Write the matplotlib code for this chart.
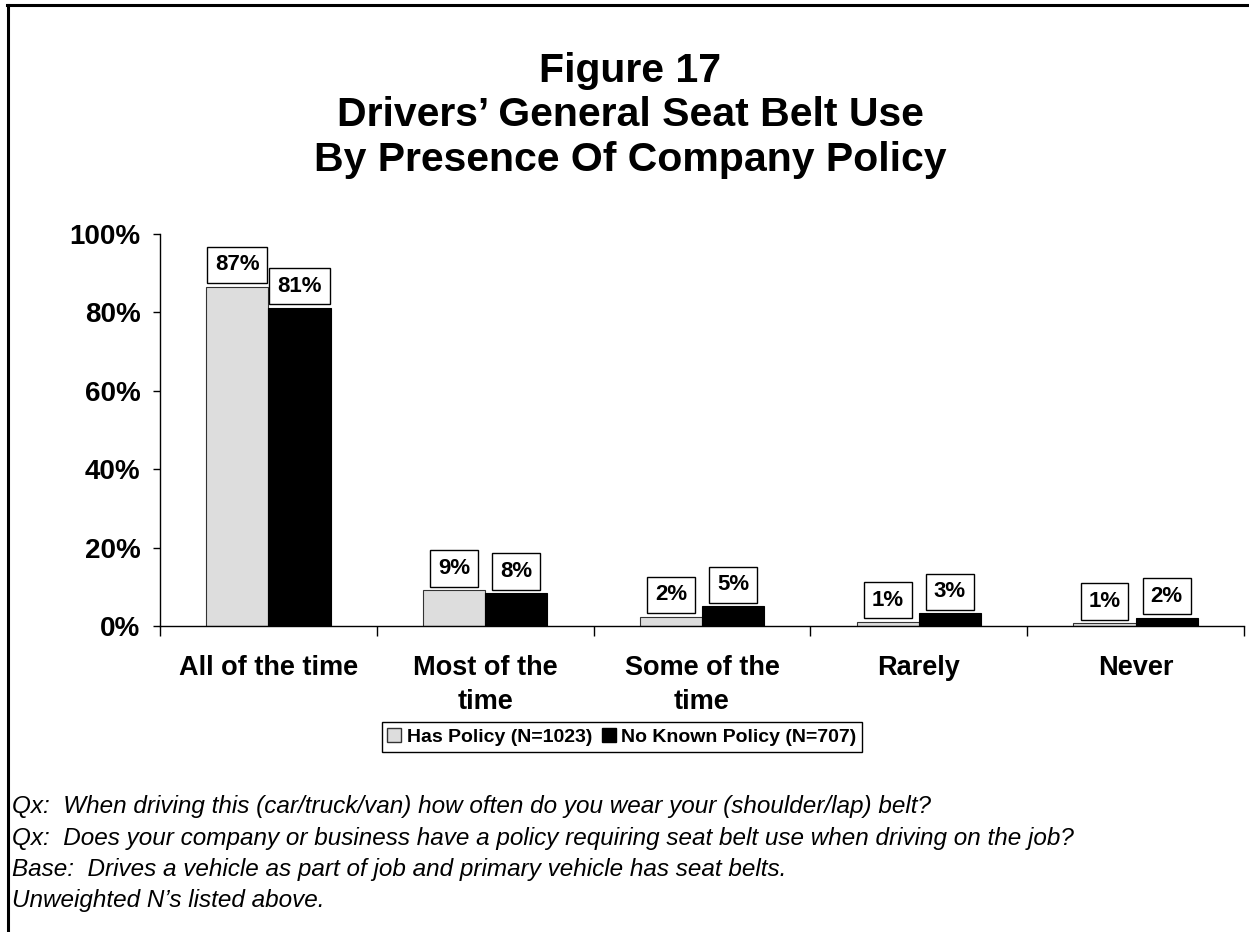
import numpy as np
import matplotlib
matplotlib.use("Agg")
import matplotlib.pyplot as plt
from matplotlib.patches import Patch
from matplotlib.lines import Line2D

plt.rcParams['font.family'] = 'Liberation Sans'

categories = ["All of the time", "Most of the\ntime", "Some of the\ntime", "Rarely", "Never"]
has_policy = [86.6, 9.2, 2.4, 1.1, 0.7]
no_policy = [81.2, 8.4, 5.0, 3.2, 2.1]
series_names = ["Has Policy (N=1023)", "No Known Policy (N=707)"]
title_lines = ["Figure 17", "Drivers\u2019 General Seat Belt Use", "By Presence Of Company Policy"]
notes = [
    "Qx:  When driving this (car/truck/van) how often do you wear your (shoulder/lap) belt?",
    "Qx:  Does your company or business have a policy requiring seat belt use when driving on the job?",
    "Base:  Drives a vehicle as part of job and primary vehicle has seat belts.",
    "Unweighted N\u2019s listed above.",
]

W, H = 1249, 932
fig = plt.figure(figsize=(W / 100, H / 100), dpi=100)
ax = fig.add_axes([160 / W, 1 - 626 / H, 1084 / W, 392 / H])

x = np.arange(len(categories))
bw = 0.287
b1 = ax.bar(x - bw / 2, has_policy, bw, color="#dddddd", edgecolor="#333333", linewidth=0.8)
b2 = ax.bar(x + bw / 2, no_policy, bw, color="black", edgecolor="black", linewidth=0.8)

for bars in (b1, b2):
    for r in bars:
        ax.annotate(f"{r.get_height():.0f}%", (r.get_x() + r.get_width() / 2, r.get_height()),
                    xytext=(0, 8), textcoords="offset points", ha="center", va="bottom",
                    fontsize=16, fontweight="bold",
                    bbox=dict(boxstyle="square,pad=0.35", fc="white", ec="black", lw=1))

ax.set_xlim(-0.5, len(categories) - 0.5)
ax.set_ylim(0, 100)
ax.set_yticks(np.arange(0, 101, 20))
ax.set_yticklabels([f"{v}%" for v in range(0, 101, 20)], fontsize=20, fontweight="bold")
ax.tick_params(axis="y", length=5, width=1, pad=9)

ax.set_xticks(np.arange(-0.5, len(categories)), labels=[])
ax.set_xticks(x, labels=categories, minor=True)
ax.tick_params(axis="x", which="major", length=7, width=1)
ax.tick_params(axis="x", which="minor", length=0, pad=21)
for lab in ax.get_xticklabels(minor=True):
    lab.set_fontsize(19.5)
    lab.set_fontweight("bold")
    lab.set_linespacing(1.38)

for s in ["top", "right"]:
    ax.spines[s].set_visible(False)
ax.spines["left"].set_linewidth(1)
ax.spines["bottom"].set_linewidth(1)

fig.text(630 / W, 1 - 171 / H, "\n".join(title_lines), ha="center", va="baseline",
         fontsize=29.5, fontweight="bold", linespacing=1.22)

handles = [Patch(facecolor="#dddddd", edgecolor="#333333", label=series_names[0]),
           Patch(facecolor="black", edgecolor="black", label=series_names[1])]
leg = fig.legend(handles=handles, loc="center", bbox_to_anchor=(622 / W, 1 - 737 / H), ncol=2,
                 prop={"size": 14, "weight": "bold"}, handlelength=0.7, handleheight=0.7,
                 handletextpad=0.3, columnspacing=0.5, borderpad=0.3, fancybox=False,
                 edgecolor="black", framealpha=1)
leg.get_frame().set_linewidth(1)

for i, n in enumerate(notes):
    fig.text(12 / W, 1 - (813 + 31.5 * i) / H, n, ha="left", va="baseline", fontsize=17.5, style="italic")

fig.add_artist(Line2D([7 / W, 1], [1 - 5 / H, 1 - 5 / H], color="black", lw=2.2))
fig.add_artist(Line2D([8 / W, 8 / W], [0, 1 - 5 / H], color="black", lw=2.2))

fig.savefig("out.png", dpi=100)
